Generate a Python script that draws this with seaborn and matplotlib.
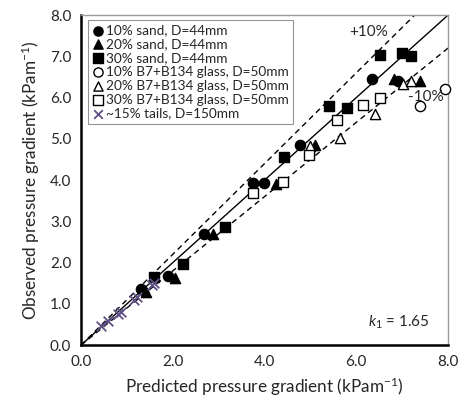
import numpy as np
import matplotlib
matplotlib.use("Agg")
import matplotlib.pyplot as plt
from matplotlib.ticker import MultipleLocator, FormatStrFormatter
import seaborn as sns

# --- data ---
sand10_x = [1.30, 1.90, 2.68, 3.75, 3.98, 4.77, 6.34, 6.90]
sand10_y = [1.35, 1.68, 2.69, 3.93, 3.92, 4.85, 6.44, 6.40]

sand20_x = [1.41, 2.05, 2.88, 4.26, 5.11, 6.82, 7.39]
sand20_y = [1.30, 1.64, 2.69, 3.91, 4.85, 6.44, 6.41]

sand30_x = [1.59, 2.22, 3.15, 4.42, 5.40, 5.80, 6.52, 6.99, 7.20]
sand30_y = [1.66, 1.96, 2.86, 4.57, 5.79, 5.76, 7.03, 7.09, 7.00]

glass10_x = [7.38, 7.93]
glass10_y = [5.80, 6.22]

glass20_x = [4.99, 5.65, 6.41, 7.01, 7.19]
glass20_y = [4.82, 5.01, 5.60, 6.34, 6.41]

glass30_x = [3.75, 4.40, 4.96, 5.59, 6.15, 6.52]
glass30_y = [3.68, 3.95, 4.61, 5.45, 5.82, 5.99]

tails_x = [0.43, 0.60, 0.80, 0.87, 1.15, 1.22, 1.55, 1.60]
tails_y = [0.46, 0.59, 0.76, 0.81, 1.10, 1.16, 1.45, 1.50]

line_x = np.array([0.0, 8.0])
band = 0.10

sns.set_style("white")
plt.rcParams["font.family"] = ["Lato", "DejaVu Sans"]
plt.rcParams["mathtext.fontset"] = "custom"
plt.rcParams["mathtext.rm"] = "Lato"
plt.rcParams["mathtext.it"] = "Lato:italic"

fig = plt.figure(figsize=(4.6, 4.08), dpi=100)
ax = fig.add_axes([0.176, 0.154, 0.798, 0.809])

# parity line and +/-10% bands
sns.lineplot(x=line_x, y=line_x, ax=ax, color="black", lw=1.0)
sns.lineplot(x=line_x, y=line_x * (1 + band), ax=ax, color="black", lw=1.0,
             linestyle=(0, (4, 3)))
sns.lineplot(x=line_x, y=line_x * (1 - band), ax=ax, color="black", lw=1.0,
             linestyle=(0, (4, 3)))

ms = 54
series = [
    (sand10_x, sand10_y, "o", "black", "10% sand, D=44mm"),
    (sand20_x, sand20_y, "^", "black", "20% sand, D=44mm"),
    (sand30_x, sand30_y, "s", "black", "30% sand, D=44mm"),
    (glass10_x, glass10_y, "o", "white", "10% B7+B134 glass, D=50mm"),
    (glass20_x, glass20_y, "^", "white", "20% B7+B134 glass, D=50mm"),
    (glass30_x, glass30_y, "s", "white", "30% B7+B134 glass, D=50mm"),
]
for xs, ys, mk, fc, lab in series:
    sns.scatterplot(x=xs, y=ys, ax=ax, marker=mk, s=ms, color=fc,
                    edgecolor="black", linewidth=1.0, label=lab, zorder=3,
                    clip_on=False)

sns.scatterplot(x=tails_x, y=tails_y, ax=ax, marker="x", s=48,
                color="#5e5085", linewidth=1.3, label="~15% tails, D=150mm",
                zorder=3)

ax.set_xlim(0, 8)
ax.set_ylim(0, 8)
ax.xaxis.set_major_locator(MultipleLocator(2))
ax.xaxis.set_minor_locator(MultipleLocator(0.4))
ax.yaxis.set_major_locator(MultipleLocator(1))
ax.yaxis.set_minor_locator(MultipleLocator(0.2))
ax.xaxis.set_major_formatter(FormatStrFormatter("%.1f"))
ax.yaxis.set_major_formatter(FormatStrFormatter("%.1f"))
ax.tick_params(which="both", direction="in", top=False, right=False,
               labelsize=11, width=1.3, color="black")
ax.tick_params(which="major", length=6, pad=7)
ax.tick_params(which="minor", length=3.5)

for s in ["left", "bottom"]:
    ax.spines[s].set_color("black")
    ax.spines[s].set_linewidth(1.8)
for s in ["top", "right"]:
    ax.spines[s].set_color("#9a9a9a")
    ax.spines[s].set_linewidth(1.0)

ax.set_xlabel("Predicted pressure gradient (kPam$^{\\mathregular{-1}}$)",
              fontsize=12.3, labelpad=5)
ax.set_ylabel("Observed pressure gradient (kPam$^{\\mathregular{-1}}$)",
              fontsize=12.3, labelpad=6)

ax.text(5.85, 7.5, "+10%", fontsize=11)
ax.text(7.12, 5.93, "-10%", fontsize=11)
ax.text(7.6, 0.45, "$k_1$ = 1.65", fontsize=11, ha="right")

leg = ax.legend(loc="upper left", bbox_to_anchor=(0.018, 0.985),
                fontsize=9.8, frameon=True, fancybox=False,
                handletextpad=0.05, handlelength=1.0, borderpad=0.3,
                labelspacing=0.14, borderaxespad=0.0, markerscale=0.9)
leg.get_frame().set_edgecolor("#7a7a7a")
leg.get_frame().set_linewidth(0.8)

fig.savefig("out.png", dpi=100)
